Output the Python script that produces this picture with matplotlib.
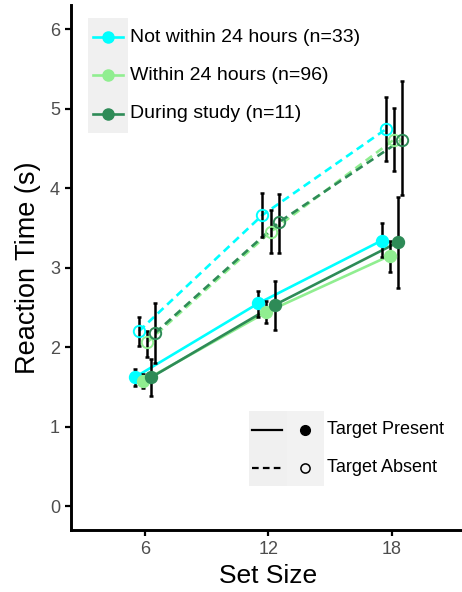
import matplotlib
matplotlib.use('Agg')
import matplotlib.pyplot as plt
from matplotlib.lines import Line2D
from matplotlib.patches import Rectangle

plt.rcParams['font.family'] = ['Liberation Sans', 'DejaVu Sans']

# ---------------- data ----------------
set_sizes = [6, 12, 18]
x_tick_labels = ['6', '12', '18']
y_ticks = [0, 1, 2, 3, 4, 5, 6]
group_labels = ['Not within 24 hours (n=33)', 'Within 24 hours (n=96)', 'During study (n=11)']
target_labels = ['Target Present', 'Target Absent']

# Target present (mean, lower, upper) per group
present_mean = [[1.62, 2.55, 3.34], [1.57, 2.44, 3.15], [1.62, 2.53, 3.32]]
present_low = [[1.51, 2.38, 3.13], [1.48, 2.30, 2.95], [1.39, 2.22, 2.74]]
present_high = [[1.72, 2.71, 3.56], [1.66, 2.58, 3.34], [1.85, 2.83, 3.89]]

# Target absent (mean, lower, upper) per group
absent_mean = [[2.20, 3.66, 4.74], [2.06, 3.45, 4.61], [2.18, 3.57, 4.61]]
absent_low = [[2.01, 3.39, 4.34], [1.88, 3.18, 4.22], [1.80, 3.18, 3.91]]
absent_high = [[2.38, 3.94, 5.14], [2.20, 3.73, 5.01], [2.56, 3.92, 5.35]]

# ---------------- style / layout ----------------
colors = ['#00FFFF', '#90EE90', '#2E8B57']
present_dodge = [-0.5, -0.1, 0.3]
absent_dodge = [-0.3, 0.1, 0.5]
W, H = 462, 592
LW = 1.9
DASH = (3.0, 1.9)

fig = plt.figure(figsize=(W / 100, H / 100), dpi=100)
ax = fig.add_axes([71 / W, (H - 530) / H, (466 - 71) / W, (530 - 5.2) / H])

def draw_series(means, lows, highs, dodge, color, dashed):
    xs = [s + dodge for s in set_sizes]
    ls = (0, DASH) if dashed else '-'
    ax.plot(xs, means, color=color, lw=LW, linestyle=ls, zorder=2)
    yerr = [[m - l for m, l in zip(means, lows)], [h - m for m, h in zip(means, highs)]]
    ax.errorbar(xs, means, yerr=yerr, fmt='none', ecolor='black',
                elinewidth=1.8, capsize=1.7, capthick=1.8, zorder=3)
    if dashed:
        ax.plot(xs, means, 'o', ms=8.2, mfc='none', mec=color, mew=1.4,
                linestyle='none', zorder=5)
    else:
        ax.plot(xs, means, 'o', ms=8.6, color=color, mec=color,
                linestyle='none', zorder=5)

for i in range(3):
    draw_series(present_mean[i], present_low[i], present_high[i],
                present_dodge[i], colors[i], False)
for i in range(3):
    draw_series(absent_mean[i], absent_low[i], absent_high[i],
                absent_dodge[i], colors[i], True)

ax.set_xlim(6 - 0.6 * 6, 18 + 0.6 * 6)
ax.set_ylim(-0.3, 6.3)
ax.set_xticks(set_sizes)
ax.set_xticklabels(x_tick_labels)
ax.set_yticks(y_ticks)
for s in ['top', 'right']:
    ax.spines[s].set_visible(False)
for s in ['left', 'bottom']:
    ax.spines[s].set_linewidth(2.1)
    ax.spines[s].set_color('black')
ax.tick_params(axis='both', length=4, width=1.6, color='black',
               labelsize=13, labelcolor='#4D4D4D', pad=4)
ax.set_facecolor('white')

# axis titles
fig.text(268.5 / W, 1 - 576 / H, 'Set Size', ha='center', va='center', fontsize=19)
fig.text(28 / W, 1 - 268 / H, 'Reaction Time (s)', ha='center', va='center',
         rotation=90, fontsize=19.5)

def fx(p):
    return p / W

def fy(p):
    return 1 - p / H

# ---------------- legend 1 (groups) ----------------
fig.add_artist(Rectangle((fx(88), fy(133)), 40 / W, 115 / H, transform=fig.transFigure,
                         facecolor='#F0F0F0', edgecolor='none', zorder=10))
rows1 = [37, 75, 114]
for i, lab in enumerate(group_labels):
    y = fy(rows1[i])
    fig.add_artist(Line2D([fx(93), fx(123)], [y, y], transform=fig.transFigure,
                          color=colors[i], lw=LW, zorder=11))
    fig.add_artist(Line2D([fx(108)], [y], transform=fig.transFigure, marker='o',
                          ms=8.0, color=colors[i], linestyle='none', zorder=12))
    fig.text(fx(130), y, lab, ha='left', va='center', fontsize=14, zorder=12)

# ---------------- legend 2 (target) ----------------
fig.add_artist(Rectangle((fx(249), fy(486)), 37.5 / W, 75 / H, transform=fig.transFigure,
                         facecolor='#F0F0F0', edgecolor='none', zorder=10))
fig.add_artist(Rectangle((fx(287), fy(486)), 37 / W, 75 / H, transform=fig.transFigure,
                         facecolor='#F2F2F2', edgecolor='none', zorder=10))
rows2 = [430, 468]
for j, lab in enumerate(target_labels):
    y = fy(rows2[j])
    ls = '-' if j == 0 else (0, DASH)
    fig.add_artist(Line2D([fx(252), fx(282)], [y, y], transform=fig.transFigure,
                          color='black', lw=1.6, linestyle=ls, zorder=11))
    if j == 0:
        fig.add_artist(Line2D([fx(305)], [y], transform=fig.transFigure, marker='o',
                              ms=7.0, color='black', linestyle='none', zorder=12))
    else:
        fig.add_artist(Line2D([fx(305)], [y], transform=fig.transFigure, marker='o',
                              ms=6.6, mfc='none', mec='black', mew=1.1,
                              linestyle='none', zorder=12))
    fig.text(fx(327), y, lab, ha='left', va='center', fontsize=13, zorder=12)

fig.savefig('out.png', dpi=100)
